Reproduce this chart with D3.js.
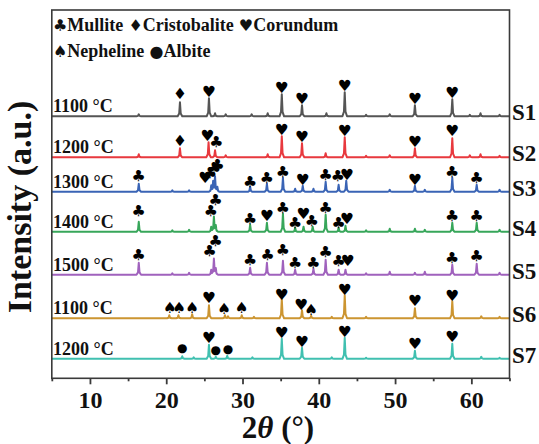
<!DOCTYPE html>
<html>
<head>
<meta charset="utf-8">
<script src="https://cdn.jsdelivr.net/npm/d3@7"></script>
<style>
  body { margin: 0; background: #fff; }
  text { font-family: "Liberation Serif", "Times New Roman", serif; font-weight: bold; fill: #111; }
  .sym { font-family: "DejaVu Sans", sans-serif; font-weight: normal; }
</style>
</head>
<body>
<svg id="chart" width="539" height="444"></svg>
<script>
// ---- data ---------------------------------------------------------------
const sampleNames  = ["S1", "S2", "S3", "S4", "S5", "S6", "S7"];
const temperatures = ["1100 °C", "1200 °C", "1300 °C", "1400 °C", "1500 °C", "1100 °C", "1200 °C"];
const sampleColors = ["#555555", "#e8393e", "#3a64b5", "#37a65a", "#a062bd", "#cc9531", "#40c0b0"];
// vertical offset of each pattern (a.u.)
const offsets = [262, 221, 186.5, 146.5, 103.5, 60, 19.5];

const phaseKeys    = ["mul", "cri", "cor", "nep", "alb"];
const phaseNames   = ["Mullite", "Cristobalite", "Corundum", "Nepheline", "Albite"];
const phaseSymbols = ["\u2663", "\u2666", "\u2665", "\u2660", "\u25CF"];

const xTicks      = [10, 20, 30, 40, 50, 60];
const xMinorTicks = [5, 15, 25, 35, 45, 55, 65];

// reflections: [2θ, intensity above the pattern baseline]
const peaksS1 = [[16.4,2],[21.8,14],[25.6,18],[26.4,3],[27.8,2],[31.2,2],[33.3,3],[35.15,22],[37.8,11],[41.0,3],[43.4,24],[46.2,1.5],[49.3,2],[52.6,11],[57.5,17],[59.8,1.5],[61.2,3],[63.7,1.5]];
const peaksS2 = [[16.4,3],[21.8,9],[25.55,15],[26.4,7],[27.8,2],[33.3,3],[35.15,21],[37.8,14],[40.9,4],[43.4,20],[46.2,1.5],[49.3,2],[52.6,9],[57.5,19],[59.8,2],[61.2,3],[63.7,1.5]];
const peaksS3 = [[16.4,8],[20.8,1.5],[23.0,1.5],[25.9,6],[26.15,10],[26.4,15],[26.7,5],[31.0,5],[33.2,8],[35.3,14],[36.9,3],[37.9,6],[39.3,3],[40.9,10],[42.6,7],[43.6,11],[49.3,2],[52.6,6],[53.9,2],[57.5,14],[60.7,7],[63.7,2]];
const peaksS4 = [[16.4,10],[20.8,1.5],[23.0,2],[25.9,5],[26.25,15],[26.5,6],[31.0,7],[33.2,9],[35.3,18],[36.9,4],[38.0,5],[39.2,5],[40.9,17],[42.6,4],[43.5,6],[46.2,1.5],[49.3,3],[52.6,3],[53.9,2],[57.5,9],[60.7,9],[63.7,2]];
const peaksS5 = [[16.4,12],[20.8,1.5],[23.0,2],[25.9,5],[26.25,16],[26.5,6],[31.0,7],[33.2,12],[35.3,14],[36.9,5],[39.3,6],[40.9,15],[42.6,5],[43.5,5],[46.2,1.5],[49.3,3],[52.6,2],[53.9,3],[57.5,10],[60.7,11],[63.7,2]];
const peaksS6 = [[20.4,3],[21.6,3],[23.4,4],[25.6,13],[27.7,3],[28.1,2],[29.9,3],[31.5,1.5],[35.15,19],[37.8,8],[39.0,2.5],[41.7,1.5],[43.4,23],[46.2,1.5],[52.6,10],[57.5,17],[61.3,2],[63.7,1.5]];
const peaksS7 = [[22.1,2.5],[23.6,1.5],[25.6,14],[26.5,2],[28.0,3],[31.3,1.5],[35.15,20],[37.8,11],[41.7,1.5],[43.4,21],[46.2,1],[52.6,8],[57.5,15],[61.3,2],[63.7,1]];

// phase labels: [2θ, phase, height of label above the pattern baseline]
const marksS1 = [[21.8,"cri",22],[25.6,"cor",24.5],[35.15,"cor",28.5],[37.8,"cor",17.5],[43.4,"cor",30.5],[52.6,"cor",17.5],[57.5,"cor",23.5]];
const marksS2 = [[21.8,"cri",16],[25.4,"cor",21],[26.6,"mul",15.5],[35.15,"cor",27.5],[37.8,"cor",20],[43.4,"cor",26],[52.6,"cor",15],[57.5,"cor",26]];
const marksS3 = [[16.4,"mul",15.5],[25.1,"cor",13.5],[25.75,"mul",18.5],[26.3,"mul",23.5],[26.75,"mul",27],[31.0,"mul",9.5],[33.2,"mul",13.5],[35.3,"mul",19.5],[37.9,"cor",12],[40.9,"mul",16.5],[42.5,"mul",15.5],[43.7,"cor",17],[52.6,"cor",12],[57.5,"mul",20],[60.7,"mul",13.5]];
const marksS4 = [[16.4,"mul",20.5],[25.85,"mul",20.5],[26.5,"mul",32],[31.0,"mul",13],[33.2,"cor",16],[35.3,"mul",23.5],[36.9,"mul",9],[38.0,"cor",18],[39.1,"mul",10.5],[40.9,"mul",23.5],[42.6,"mul",9],[43.7,"cor",13],[57.5,"mul",15.5],[60.7,"mul",15.5]];
const marksS5 = [[16.4,"mul",20],[25.7,"mul",23.5],[26.5,"mul",33.5],[31.0,"mul",15],[33.3,"mul",20],[35.3,"mul",25],[36.9,"mul",11.5],[39.3,"mul",11.5],[40.9,"mul",22.5],[42.6,"mul",13.5],[43.8,"cor",13.5],[57.5,"mul",16.5],[60.7,"mul",18.5]];
const marksS6 = [[20.5,"nep",10.5],[21.7,"nep",10.5],[23.4,"nep",10.5],[25.6,"cor",20],[27.6,"nep",9.5],[29.9,"nep",10.5],[35.15,"cor",23.5],[37.7,"cor",13.5],[39.0,"nep",8.5],[43.4,"cor",28.5],[52.6,"cor",17],[57.5,"cor",22.5]];
const marksS7 = [[22.1,"alb",10.5],[25.6,"cor",20.5],[26.5,"alb",9],[28.1,"alb",9.5],[35.15,"cor",26],[37.8,"cor",17],[43.4,"cor",27],[52.6,"cor",14.5],[57.5,"cor",22]];

const allPeaks = [peaksS1, peaksS2, peaksS3, peaksS4, peaksS5, peaksS6, peaksS7];
const allMarks = [marksS1, marksS2, marksS3, marksS4, marksS5, marksS6, marksS7];

// ---- layout -------------------------------------------------------------
const svg = d3.select("#chart");
const plot = { left: 51.8, right: 509.5, top: 10, bottom: 378.3 };

const x = d3.scaleLinear().domain([5, 65]).range([plot.left, plot.right]);
const y = d3.scaleLinear().domain([0, 368.3]).range([plot.bottom, plot.top]);

// narrow reflection profile (piecewise linear) evaluated at 2θ = t
const tip = 0.1, foot = 0.3;
function profile(p, h, t) {
  const d = Math.abs(t - p);
  if (d >= foot) return 0;
  if (d <= tip) return h * (1 - 0.8 * d / tip);
  return 0.2 * h * (foot - d) / (foot - tip);
}
function patternPoints(peaks) {
  const knots = new Set([5, 65]);
  peaks.forEach(([p]) => [-foot, -tip, 0, tip, foot].forEach(o => knots.add(+(p + o).toFixed(3))));
  return Array.from(knots).filter(t => t >= 5 && t <= 65).sort((a, b) => a - b)
    .map(t => [t, d3.sum(peaks, ([p, h]) => profile(p, h, t))]);
}

const line = d3.line().x(d => x(d[0])).y(d => y(d[1]));

// patterns
allPeaks.forEach((peaks, i) => {
  const pts = patternPoints(peaks).map(([t, v]) => [t, v + offsets[i]]);
  svg.append("path")
    .attr("d", line(pts))
    .attr("fill", "none")
    .attr("stroke", sampleColors[i])
    .attr("stroke-width", 2)
    .attr("stroke-linejoin", "round");
});

// phase symbols above reflections
const symOf = k => phaseSymbols[phaseKeys.indexOf(k)];
allMarks.forEach((marks, i) => {
  svg.append("g").selectAll("text").data(marks).join("text")
    .attr("class", "sym")
    .attr("x", d => x(d[0]))
    .attr("y", d => y(d[2] + offsets[i]))
    .attr("text-anchor", "middle")
    .attr("dominant-baseline", "central")
    .attr("font-size", d => d[1] === "alb" ? 12 : 15.5)
    .style("fill", "#000")
    .text(d => symOf(d[1]));
});

// temperature labels and sample names
offsets.forEach((o, i) => {
  svg.append("text")
    .attr("x", 53).attr("y", y(o) - 4)
    .attr("font-size", 18)
    .text(temperatures[i]);
  svg.append("text")
    .attr("x", 512).attr("y", y(o) + 4)
    .attr("font-size", 23)
    .text(sampleNames[i]);
});

// frame
svg.append("rect")
  .attr("x", plot.left).attr("y", plot.top)
  .attr("width", plot.right - plot.left).attr("height", plot.bottom - plot.top)
  .attr("fill", "none").attr("stroke", "#3a3a3a").attr("stroke-width", 1.6);

// bottom axis: major + minor ticks
const gMajor = svg.append("g").attr("transform", `translate(0,${plot.bottom})`)
  .call(d3.axisBottom(x).tickValues(xTicks).tickSize(6).tickPadding(7).tickFormat(d3.format("d")));
const gMinor = svg.append("g").attr("transform", `translate(0,${plot.bottom})`)
  .call(d3.axisBottom(x).tickValues(xMinorTicks).tickSize(3).tickFormat(""));
[gMajor, gMinor].forEach(g => {
  g.select(".domain").remove();
  g.selectAll("line").attr("stroke", "#3a3a3a").attr("stroke-width", 1.8);
});
gMajor.selectAll("text")
  .attr("font-size", 24)
  .style("font-family", '"Liberation Serif", "Times New Roman", serif')
  .style("font-weight", "bold")
  .style("fill", "#111");

// axis titles
const xt = svg.append("text").attr("x", 278).attr("y", 438)
  .attr("text-anchor", "middle").attr("font-size", 31);
xt.append("tspan").text("2");
xt.append("tspan").attr("font-style", "italic").text("\u03B8");
xt.append("tspan").text(" (°)");

svg.append("text")
  .attr("transform", `translate(31,207) rotate(-90)`)
  .attr("text-anchor", "middle").attr("font-size", 34)
  .text("Intensity (a.u.)");

// legend
const legendRows = [[0, 1, 2], [3, 4]];
legendRows.forEach((row, r) => {
  const t = svg.append("text").attr("x", 53).attr("y", 31 + r * 26).attr("font-size", 18);
  row.forEach((k, j) => {
    t.append("tspan").attr("class", "sym").attr("font-size", 16).text((j ? " " : "") + phaseSymbols[k]);
    t.append("tspan").text(phaseNames[k]);
  });
});
</script>
</body>
</html>
